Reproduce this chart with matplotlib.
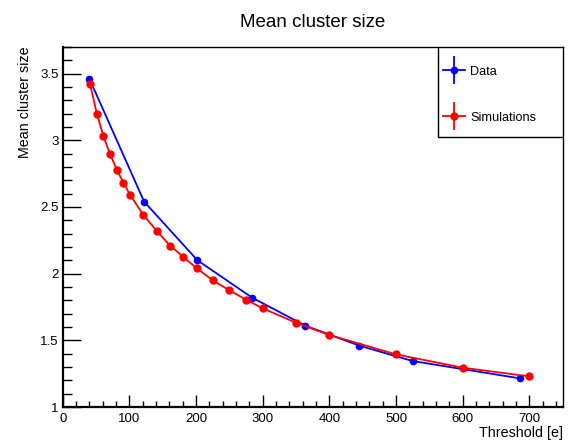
import matplotlib
matplotlib.use("Agg")
import matplotlib.pyplot as plt
from matplotlib.ticker import MultipleLocator
from matplotlib.legend_handler import HandlerErrorbar
from matplotlib.patches import Rectangle

plt.rcParams['font.family'] = ['Liberation Sans', 'DejaVu Sans']

# measured data
data_thr = [40, 122, 202, 284, 364, 445, 525, 686]
data_size = [3.46, 2.54, 2.10, 1.82, 1.61, 1.46, 1.345, 1.215]
data_err = [0.01, 0.01, 0.01, 0.008, 0.008, 0.008, 0.008, 0.008]

# simulations
sim_thr = [41, 51, 61, 71, 81, 91, 101, 121, 141, 161, 181, 201,
           225, 250, 275, 300, 350, 400, 500, 600, 700]
sim_size = [3.42, 3.20, 3.03, 2.895, 2.78, 2.68, 2.59, 2.44, 2.32, 2.21, 2.125, 2.04,
            1.95, 1.875, 1.805, 1.74, 1.632, 1.54, 1.395, 1.295, 1.23]
sim_err = [0.012] * len(sim_thr)

fig = plt.figure(figsize=(5.76, 4.42), dpi=100)
ax = fig.add_axes([0.109, 0.079, 0.868, 0.815])

ax.errorbar(data_thr, data_size, yerr=data_err, color='blue', marker='o', ms=4.5,
            lw=1.3, elinewidth=1.3, capsize=0, label='Data')
ax.errorbar(sim_thr, sim_size, yerr=sim_err, xerr=3, color='red', marker='o', ms=5,
            lw=1.3, elinewidth=1.3, capsize=0, label='Simulations')

ax.set_xlim(0, 750)
ax.set_ylim(1, 3.7)
ax.xaxis.set_major_locator(MultipleLocator(100))
ax.xaxis.set_minor_locator(MultipleLocator(20))
ax.yaxis.set_major_locator(MultipleLocator(0.5))
ax.yaxis.set_minor_locator(MultipleLocator(0.1))
ax.set_yticks([1, 1.5, 2, 2.5, 3, 3.5])
ax.set_yticklabels(['1', '1.5', '2', '2.5', '3', '3.5'])

ax.tick_params(axis='x', which='major', direction='in', length=9, width=1, labelsize=9.5, pad=4)
ax.tick_params(axis='x', which='minor', direction='in', length=4.5, width=1)
ax.tick_params(axis='y', which='major', direction='in', length=13, width=1, labelsize=9.5, pad=3)
ax.tick_params(axis='y', which='minor', direction='in', length=6.5, width=1)
for s in ax.spines.values():
    s.set_linewidth(1)
ax.spines['left'].set_linewidth(1.6)
ax.spines['bottom'].set_linewidth(1.6)

ax.set_xlabel('Threshold [e]', fontsize=10.3, loc='right', labelpad=1)
ax.set_ylabel('Mean cluster size', fontsize=10.3, loc='top', labelpad=6)
ax.set_title('Mean cluster size', fontsize=13.5, pad=14)

# ROOT-like legend: fixed box in the top right corner, entries inside
ax.add_patch(Rectangle((0.75, 0.75), 0.25, 0.25, transform=ax.transAxes,
                       facecolor='white', edgecolor='black', lw=1, zorder=4))
leg = ax.legend(loc='center left', bbox_to_anchor=(0.75, 0.742, 0.25, 0.25),
                fontsize=9.2, frameon=False, borderaxespad=0,
                labelspacing=2.65, borderpad=0.4, handlelength=1.75,
                handletextpad=0.4,
                handler_map={type(ax.containers[0]): HandlerErrorbar(xerr_size=0.2, yerr_size=1.1)})
leg.set_zorder(5)

fig.savefig('out.png', dpi=100)
